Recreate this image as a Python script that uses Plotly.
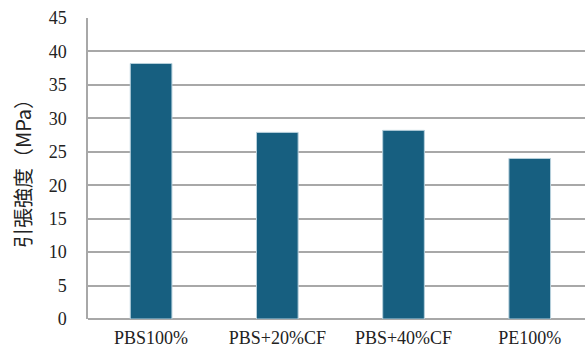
import plotly.graph_objects as go

categories = ["PBS100%", "PBS+20%CF", "PBS+40%CF", "PE100%"]
values = [38.2, 27.9, 28.2, 24.0]
y_ticks = [0, 5, 10, 15, 20, 25, 30, 35, 40, 45]

SERIF = "Liberation Serif"

fig = go.Figure(go.Bar(
    x=categories, y=values, width=0.33,
    marker=dict(color="#175f80", line=dict(color="#b7d0dc", width=1)),
))

fig.update_layout(
    width=585, height=350,
    margin=dict(l=88, r=0, t=18, b=31),
    paper_bgcolor="white", plot_bgcolor="white",
    showlegend=False,
    font=dict(family=SERIF, color="#222222", size=16),
)
fig.update_xaxes(
    range=[-0.5, 3.438], showgrid=False, showline=False, automargin=False,
    tickfont=dict(size=18, family=SERIF), ticks="", ticklabelstandoff=6,
)
fig.update_yaxes(
    range=[0, 45], tickvals=y_ticks, showgrid=True, gridcolor="#a8a8a8", gridwidth=1.5,
    showline=True, linecolor="#a8a8a8", linewidth=1.5, zeroline=True, zerolinecolor="#a8a8a8", zerolinewidth=1.5,
    automargin=False,
    tickfont=dict(size=18, family=SERIF), ticks="", ticklabelstandoff=16,
    title=dict(text="引張強度（MPa）", font=dict(size=20, family="Noto Sans CJK JP"), standoff=12),
)

fig.write_html("out.html")
